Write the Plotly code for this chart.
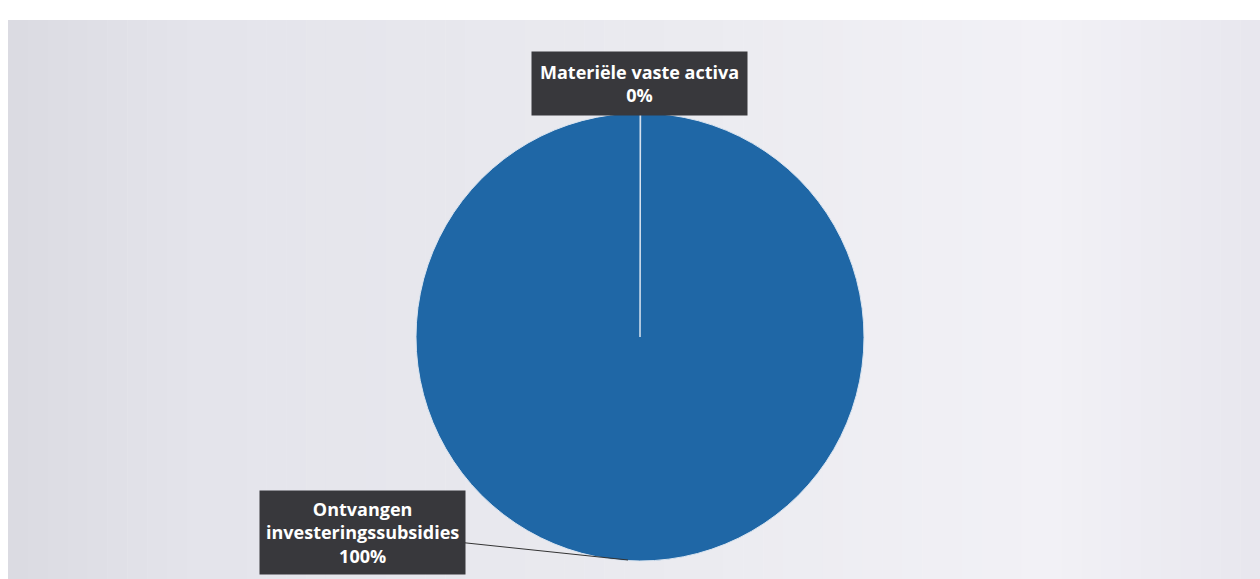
import plotly.graph_objects as go

categories = ["Materiële vaste activa", "Ontvangen investeringssubsidies"]
label_lines = ["Materiële vaste activa", "Ontvangen<br>investeringssubsidies"]
values = [0.05, 99.95]

total = sum(values)
pct_text = [f"{round(v / total * 100):.0f}%" for v in values]

W, H = 1260, 579
PIE_COLOR = "#1f67a6"
BOX_COLOR = "#38383c"

fig = go.Figure()
fig.add_trace(go.Pie(
    labels=categories,
    values=values,
    sort=False,
    direction="clockwise",
    rotation=0,
    marker=dict(colors=[PIE_COLOR, PIE_COLOR], line=dict(color="#d9e4f0", width=1)),
    textinfo="none",
    hoverinfo="label+percent",
    showlegend=False,
    domain=dict(x=[416 / W, 864 / W], y=[18 / H, 466 / H]),
))

font = dict(family="Open Sans, Noto Sans, sans-serif", size=18, color="white")

fig.add_annotation(
    x=639 / W, y=1 - 83 / H, xref="paper", yref="paper",
    text=f"<b>{label_lines[0]}</b><br><b>{pct_text[0]}</b>",
    showarrow=False, font=font, bgcolor=BOX_COLOR, borderpad=8,
    xanchor="center", yanchor="middle", align="center",
)
fig.add_annotation(
    x=628 / W, y=1 - 560 / H, xref="paper", yref="paper",
    text=f"<b>{label_lines[1]}</b><br><b>{pct_text[1]}</b>",
    showarrow=True, arrowhead=0, arrowwidth=1, arrowcolor="#333333",
    ax=-266, ay=-28, font=font, bgcolor=BOX_COLOR, borderpad=6,
    align="center",
)

# soft background gradient (styling only)
stops = [(8, (218, 218, 225)), (200, (228, 228, 235)), (640, (234, 234, 239)),
         (1050, (242, 241, 246)), (1260, (232, 230, 238))]
shapes = []
n = 63
for i in range(n):
    x0 = 8 + (1260 - 8) * i / n
    x1 = 8 + (1260 - 8) * (i + 1) / n
    xm = (x0 + x1) / 2
    for (a, ca), (b, cb) in zip(stops[:-1], stops[1:]):
        if a <= xm <= b:
            t = (xm - a) / (b - a)
            c = tuple(round(ca[k] + (cb[k] - ca[k]) * t) for k in range(3))
            break
    shapes.append(dict(type="rect", xref="paper", yref="paper",
                       x0=x0 / W, x1=(x1 + 0.5) / W, y0=0, y1=1 - 20 / H,
                       fillcolor=f"rgb{c}", line=dict(width=0), layer="below"))

fig.update_layout(
    width=W, height=H,
    margin=dict(l=0, r=0, t=0, b=0),
    paper_bgcolor="white",
    shapes=shapes,
)

fig.write_html("out.html", config={"displayModeBar": False},
               post_script="document.body.style.margin='0px';")
